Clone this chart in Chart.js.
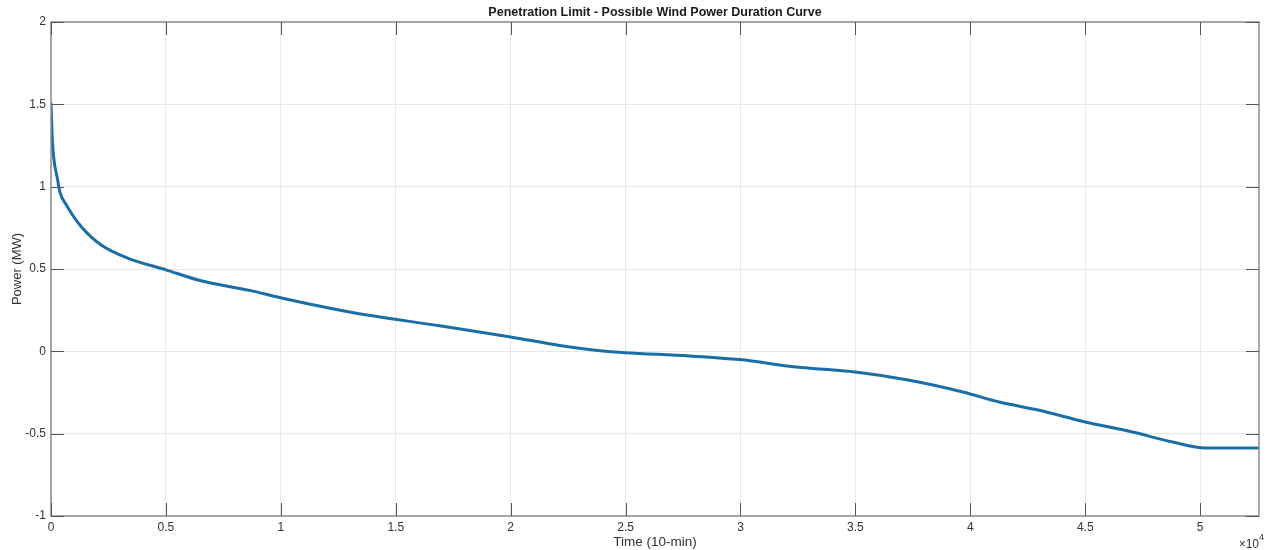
<!DOCTYPE html>
<html>
<head>
<meta charset="utf-8">
<title>Penetration Limit - Possible Wind Power Duration Curve</title>
<script src="https://cdn.jsdelivr.net/npm/chart.js@4.4.1/dist/chart.umd.min.js"></script>
<style>
    html, body { margin: 0; padding: 0; background: #fff; }
    #durationChart { display: block; }
</style>
</head>
<body>
<canvas id="durationChart" width="1266" height="550"></canvas>
<script>
// duration curve, time in 10-min steps (sorted descending)
var timeSteps = [0, 60, 290, 390, 680, 1330, 2200, 3360, 5000, 6480, 8650, 10030, 13000,
    16900, 20000, 22130, 24000, 25000, 27780, 29960, 32420, 35000, 37350, 39670, 41260, 43000,
    45000, 47060, 48800, 50250, 52560];
var powerMW = [1.51, 1.28, 1.04, 0.965, 0.886, 0.755, 0.644, 0.565, 0.495, 0.43, 0.37, 0.324, 0.239,
    0.155, 0.087, 0.036, 0.002, -0.008, -0.028, -0.05, -0.095, -0.126, -0.176, -0.247, -0.308, -0.358,
    -0.429, -0.49, -0.551, -0.587, -0.587];

var xTickValues = [0, 5000, 10000, 15000, 20000, 25000, 30000, 35000, 40000, 45000, 50000];
var xTickLabels = ['0', '0.5', '1', '1.5', '2', '2.5', '3', '3.5', '4', '4.5', '5'];
var yTickValues = [-1, -0.5, 0, 0.5, 1, 1.5, 2];
var yTickLabels = ['-1', '-0.5', '0', '0.5', '1', '1.5', '2'];

var FONT = 'Liberation Sans, Arial, Helvetica, sans-serif';
var AXIS_COLOR = '#8c8c8c';
var TICK_COLOR = '#555555';
var TEXT_COLOR = '#333333';
var GRID_COLOR = '#e8e8e8';

function fixedTicks(values) {
    return function (scale) {
        scale.ticks = values.map(function (v) { return { value: v }; });
    };
}

// box outline with short inward ticks on all four sides, plus the x exponent
var axesBox = {
    id: 'axesBox',
    afterDraw: function (chart) {
        var ctx = chart.ctx;
        var a = chart.chartArea;
        var xs = chart.scales.x, ys = chart.scales.y;
        var len = 13;

        ctx.save();
        ctx.strokeStyle = AXIS_COLOR;
        ctx.lineWidth = 1.5;
        ctx.strokeRect(a.left, a.top, a.right - a.left, a.bottom - a.top);

        ctx.strokeStyle = TICK_COLOR;
        ctx.lineWidth = 1;
        ctx.beginPath();
        xTickValues.forEach(function (v) {
            var px = Math.round(xs.getPixelForValue(v)) + 0.5;
            ctx.moveTo(px, a.bottom); ctx.lineTo(px, a.bottom - len);
            ctx.moveTo(px, a.top); ctx.lineTo(px, a.top + len);
        });
        yTickValues.forEach(function (v) {
            var py = Math.round(ys.getPixelForValue(v)) + 0.5;
            ctx.moveTo(a.left, py); ctx.lineTo(a.left + len, py);
            ctx.moveTo(a.right, py); ctx.lineTo(a.right - len, py);
        });
        ctx.stroke();

        // x10^4 multiplier under the right end of the x axis
        ctx.fillStyle = TEXT_COLOR;
        ctx.textBaseline = 'alphabetic';
        ctx.textAlign = 'right';
        ctx.font = '9px ' + FONT;
        ctx.fillText('4', 1264, 540);
        var supW = ctx.measureText('4').width;
        ctx.font = '12px ' + FONT;
        ctx.fillText('\u00d710', 1264 - supW, 548);
        ctx.restore();
    }
};

var chart = new Chart(document.getElementById('durationChart'), {
    type: 'line',
    data: {
        datasets: [{
            data: timeSteps.map(function (t, i) { return { x: t, y: powerMW[i] }; }),
            borderColor: '#1a6ea6',
            borderWidth: 3,
            pointRadius: 0,
            fill: false,
            cubicInterpolationMode: 'monotone'
        }]
    },
    options: {
        responsive: false,
        animation: false,
        layout: { padding: { left: 0, right: 7, top: 0, bottom: 0 } },
        plugins: {
            legend: { display: false },
            tooltip: { enabled: false },
            title: {
                display: true,
                fullSize: false,
                text: 'Penetration Limit - Possible Wind Power Duration Curve',
                color: '#1a1a1a',
                font: { family: FONT, size: 12.5, weight: 'bold' },
                padding: { top: 5, bottom: 2 }
            }
        },
        scales: {
            x: {
                type: 'linear',
                min: 0,
                max: 52560,
                afterBuildTicks: fixedTicks(xTickValues),
                afterFit: function (scale) { scale.height = 34; },
                grid: { color: GRID_COLOR, drawTicks: false },
                border: { display: false },
                ticks: {
                    padding: 4,
                    color: TEXT_COLOR,
                    font: { family: FONT, size: 12 },
                    maxRotation: 0,
                    callback: function (v) { return xTickLabels[xTickValues.indexOf(v)]; }
                },
                title: {
                    display: true,
                    text: 'Time (10-min)',
                    color: TEXT_COLOR,
                    font: { family: FONT, size: 13.5 },
                    padding: { top: 0, bottom: 0 }
                }
            },
            y: {
                min: -1,
                max: 2,
                afterBuildTicks: fixedTicks(yTickValues),
                afterFit: function (scale) { scale.width = 51; },
                grid: { color: GRID_COLOR, drawTicks: false },
                border: { display: false },
                ticks: {
                    padding: 5,
                    color: TEXT_COLOR,
                    font: { family: FONT, size: 12 },
                    callback: function (v) { return yTickLabels[yTickValues.indexOf(v)]; }
                },
                title: {
                    display: true,
                    text: 'Power (MW)',
                    color: TEXT_COLOR,
                    font: { family: FONT, size: 13 },
                    padding: { top: 10, bottom: 0 }
                }
            }
        }
    },
    plugins: [axesBox]
});
</script>
</body>
</html>
